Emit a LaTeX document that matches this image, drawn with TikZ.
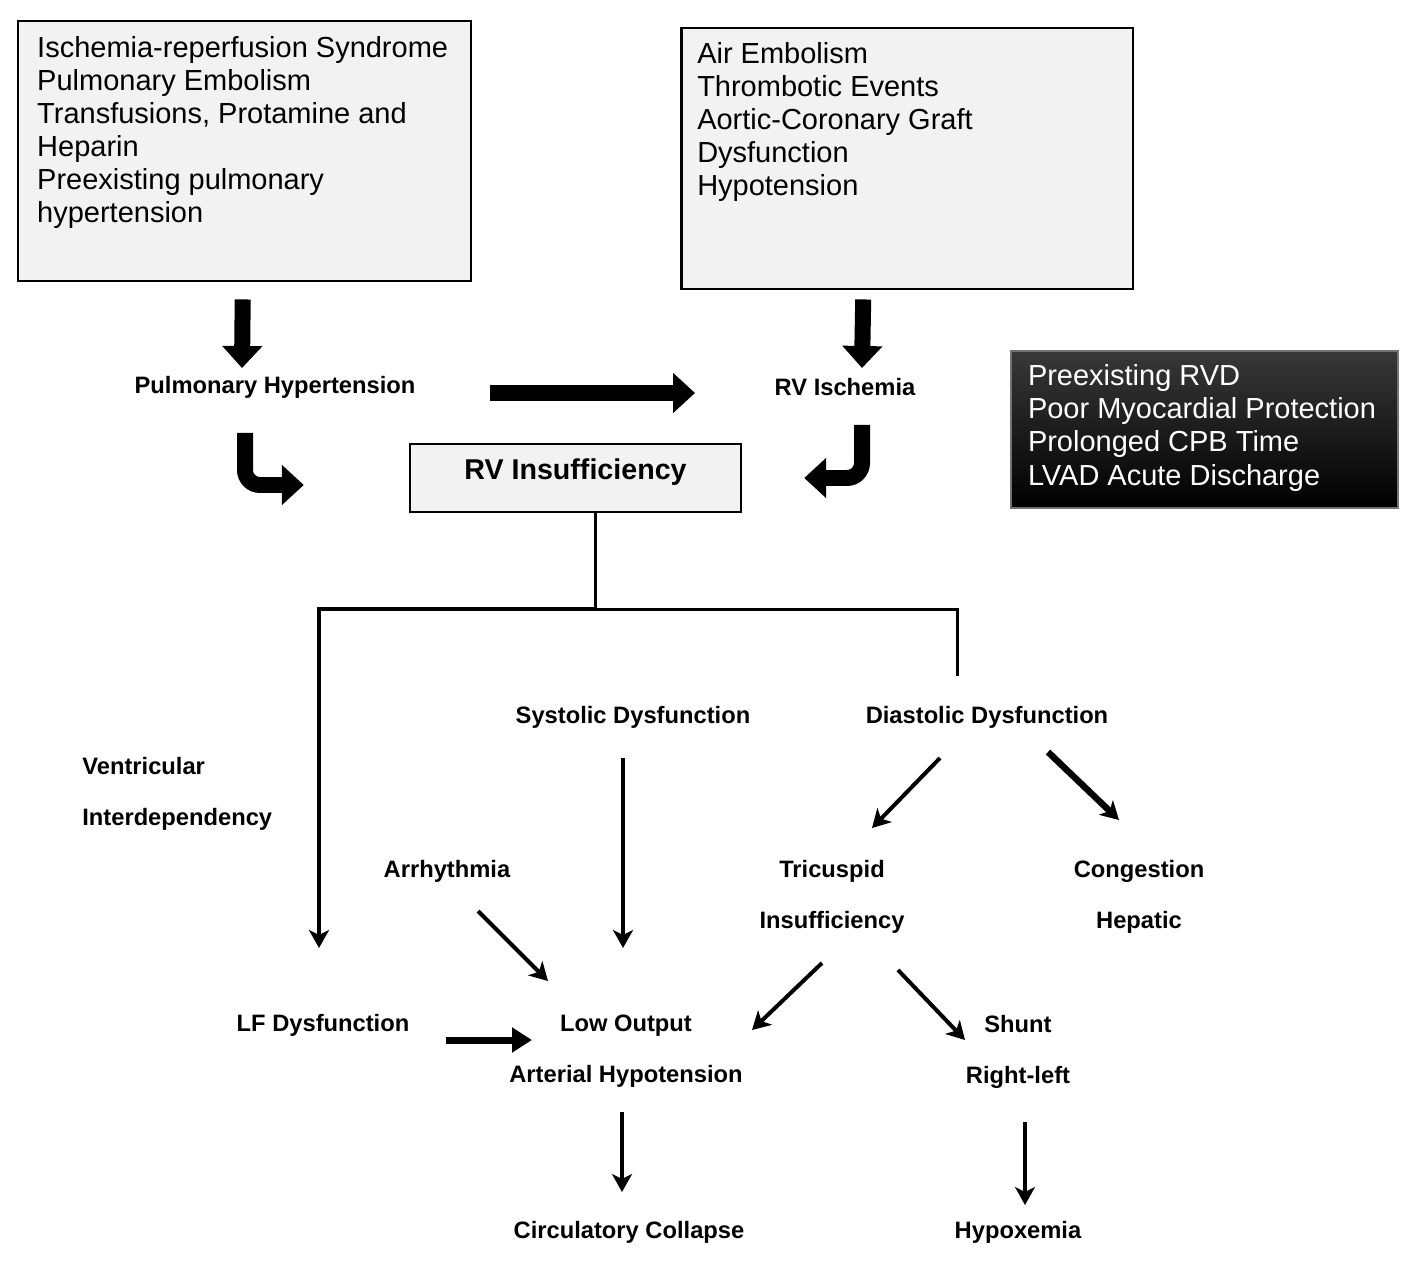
\documentclass[tikz,border=0pt]{standalone}
\usepackage{fontspec}
\setmainfont{Liberation Sans}
\usetikzlibrary{arrows.meta, calc}
\definecolor{boxgray}{HTML}{F2F2F2}

\begin{document}
\begin{tikzpicture}[
        x=0.02cm, y=-0.02cm,
        causebox/.style={rectangle, draw, line width=0.05cm, fill=boxgray, anchor=north west, font=\fontsize{16.5}{18.8}\selectfont},
        darkbox/.style={rectangle, draw=black!55, line width=0.04cm, top color=black!78, bottom color=black, text=white, anchor=north west, font=\fontsize{16.5}{19}\selectfont},
        mainbox/.style={rectangle, draw, line width=0.05cm, fill=boxgray, minimum width=6.62cm, minimum height=1.36cm, inner sep=0pt, text height=0.42cm, text depth=0.36cm, font=\fontsize{16.3}{19}\selectfont\bfseries},
        term/.style={inner sep=0pt, align=center, font=\fontsize{13.5}{29}\selectfont\bfseries},
        fatarrow/.style={line width=0.32cm, -{Triangle[width=0.78cm, length=0.44cm]}},
        medarrow/.style={line width=0.14cm, -{Triangle[width=0.48cm, length=0.4cm]}},
        arrow/.style={line width=0.08cm, -{Stealth[width=0.4cm, length=0.36cm, inset=0.1cm]}},
        link/.style={line width=0.06cm}
    ]
        \useasboundingbox (0,0) rectangle (1417,1270);

        \node[causebox, inner xsep=0.38cm, inner ysep=0.3cm] (causes) at (17,20) {\parbox[c][4.6cm][t]{8.3cm}{\raggedright Ischemia-reperfusion Syndrome\\Pulmonary Embolism\\Transfusions, Protamine and\\Heparin\\Preexisting pulmonary\\hypertension}};
        \node[causebox, inner xsep=0.32cm, inner ysep=0.28cm] (emboli) at (680,27) {\parbox[c][4.66cm][t]{8.4cm}{\raggedright Air Embolism\\Thrombotic Events\\Aortic-Coronary Graft\\Dysfunction\\Hypotension}};
        \node[darkbox, inner xsep=0.34cm, inner ysep=0.26cm] (risks) at (1010,350) {\parbox[c][2.62cm][t]{7.06cm}{\raggedright Preexisting RVD\\Poor Myocardial Protection\\Prolonged CPB Time\\LVAD Acute Discharge}};

        \node[term] (phtn) at (275,387) {Pulmonary Hypertension};
        \node[term] (isch) at (845,387) {RV Ischemia};
        \node[mainbox] (rvi) at (575.5,478) {RV Insufficiency};
        \node[term] (sysd) at (633,717) {Systolic Dysfunction};
        \node[term] (diad) at (987,717) {Diastolic Dysfunction};
        \node[term, align=left, anchor=west] (vent) at (82,793.5) {Ventricular\\Interdependency};
        \node[term] (arrh) at (447,871) {Arrhythmia};
        \node[term] (tric) at (832,896.5) {Tricuspid\\Insufficiency};
        \node[term] (cong) at (1139,896.5) {Congestion\\Hepatic};
        \node[term] (lfd) at (323,1025) {LF Dysfunction};
        \node[term] (lowout) at (626,1051.5) {Low Output\\Arterial Hypotension};
        \node[term] (shunt) at (1018,1051.5) {Shunt\\Right-left};
        \node[term] (collapse) at (629,1232) {Circulatory Collapse};
        \node[term] (hypox) at (1018,1232) {Hypoxemia};

        \draw[fatarrow] ($(causes.south)+(-2,17)$) -- ($(phtn)+(-33,-19)$);
        \draw[fatarrow] ($(emboli.south)+(-44,9)$) -- ($(isch)+(17,-19)$);
        \draw[fatarrow] ($(phtn)+(215,6)$) -- ($(isch)+(-150,6)$);
        \draw[fatarrow, rounded corners=0.3cm] ($(phtn)+(-30,46)$) |- ($(rvi.west)+(-105,7)$);
        \draw[fatarrow, rounded corners=0.3cm] ($(isch)+(17,38)$) |- ($(rvi.east)+(62,0)$);

        \draw[link] ($(rvi.south)+(20,0)$) -- ++(0,96) coordinate (fork);
        \draw[arrow] (fork) -| ($(lfd)+(-4,-77)$);
        \draw[link] (fork) -| ($(diad)+(-30,-41)$);

        \draw[arrow] ($(sysd)+(-10,41)$) -- ($(lowout)+(-3,-103.5)$);
        \draw[arrow] ($(diad)+(-47,41)$) -- ($(tric)+(40,-68.5)$);
        \draw[arrow, line width=0.13cm] ($(diad)+(61,35)$) -- ($(cong)+(-20,-76.5)$);
        \draw[arrow] ($(arrh)+(31,40)$) -- ($(lowout)+(-78,-70.5)$);
        \draw[medarrow] ($(lfd)+(123,15)$) -- ($(lowout)+(-94,-11.5)$);
        \draw[arrow] ($(tric)+(-10,66.5)$) -- ($(lowout)+(126,-21.5)$);
        \draw[arrow] ($(tric)+(66,73.5)$) -- ($(shunt)+(-53,-11.5)$);
        \draw[arrow] ($(lowout)+(-4,60.5)$) -- ($(collapse)+(-7,-40)$);
        \draw[arrow] ($(shunt)+(7,70.5)$) -- ($(hypox)+(7,-27)$);
    \end{tikzpicture}
\end{document}
